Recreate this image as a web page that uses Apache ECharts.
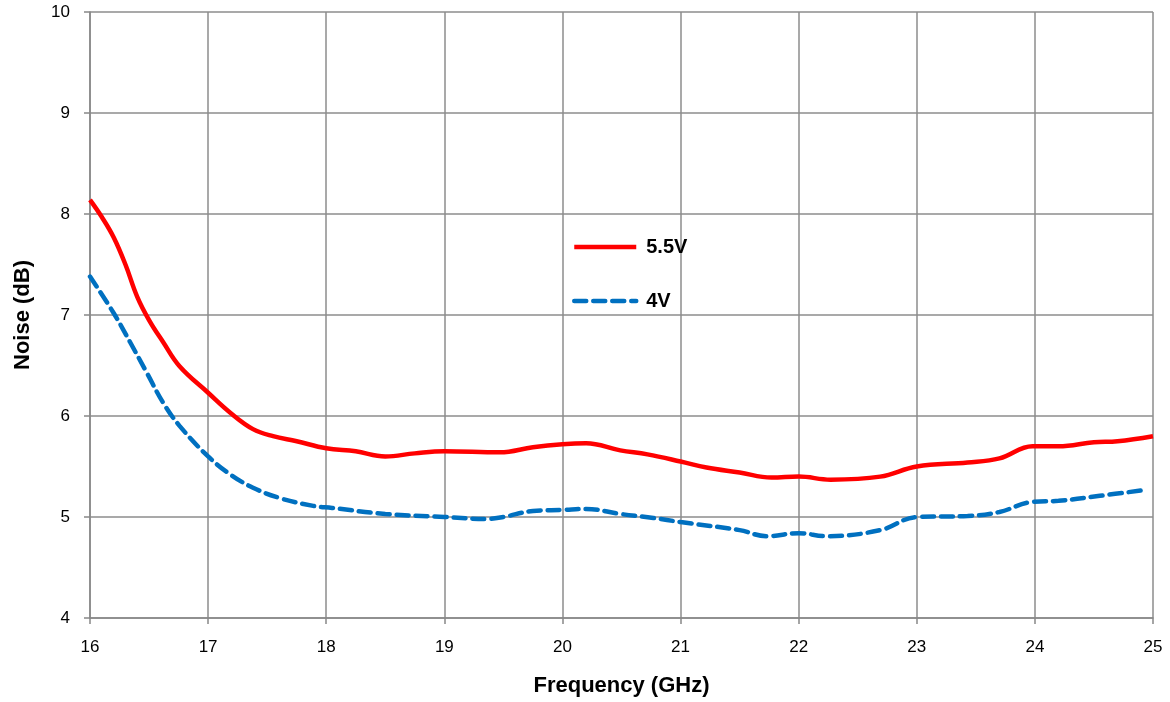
<!DOCTYPE html>
<html><head><meta charset="utf-8">
<script src="https://cdn.jsdelivr.net/npm/echarts@6/dist/echarts.min.js"></script>
<style>html,body{margin:0;padding:0;background:#fff}#c{width:1170px;height:702px}</style>
</head><body><div id="c"></div>
<script>
const freqRed = [16.0,16.1,16.2,16.3,16.4,16.5,16.62,16.76,17.0,17.19,17.38,17.55,17.75,18.0,18.25,18.5,18.75,19.0,19.47,19.75,20.0,20.2,20.49,20.72,21.0,21.22,21.5,21.77,22.0,22.27,22.69,23.0,23.43,23.7,23.98,24.2,24.5,24.7,25.0];
const red55 = [8.14,7.97,7.77,7.5,7.18,6.95,6.73,6.49,6.23,6.03,5.87,5.80,5.75,5.68,5.65,5.60,5.63,5.65,5.64,5.69,5.72,5.73,5.66,5.62,5.55,5.49,5.44,5.39,5.40,5.37,5.40,5.50,5.54,5.58,5.70,5.70,5.74,5.75,5.80];
const freqBlue = [16.0,16.2,16.34,16.48,16.62,16.76,17.0,17.19,17.38,17.6,17.89,18.05,18.5,19.0,19.36,19.5,19.75,20.0,20.2,20.49,20.77,21.0,21.5,21.73,22.0,22.24,22.69,23.0,23.43,23.7,23.98,24.2,24.55,24.95];
const blue4 = [7.38,7.02,6.73,6.43,6.13,5.90,5.60,5.42,5.29,5.19,5.11,5.09,5.03,5.00,4.98,5.00,5.06,5.07,5.08,5.03,4.99,4.95,4.87,4.81,4.84,4.81,4.87,5.00,5.01,5.05,5.15,5.16,5.21,5.27];
const seriesNames = ['5.5V','4V'];
const xTicks = [16,25,1];
const yTicks = [4,10,1];

const font = 'Liberation Sans, Arial, sans-serif';
const chart = echarts.init(document.getElementById('c'));
chart.setOption({
  animation:false,
  backgroundColor:'#fff',
  grid:{left:90,right:17,top:12,bottom:83,containLabel:false},
  legend:{
    orient:'vertical', left:567, top:232, itemWidth:62, itemHeight:12, itemGap:34,
    itemStyle:{opacity:0},
    lineStyle:{width:4.5},
    textStyle:{fontFamily:font,fontSize:20,fontWeight:'bold',color:'#000',padding:[0,0,0,5]},
    data:seriesNames
  },
  xAxis:{
    type:'value', min:xTicks[0], max:xTicks[1], interval:xTicks[2],
    name:'Frequency (GHz)', nameLocation:'middle', nameGap:57,
    nameTextStyle:{fontFamily:font,fontSize:22,fontWeight:'bold',color:'#000'},
    axisLine:{lineStyle:{color:'#888',width:1.5}},
    axisTick:{show:true,length:6,lineStyle:{color:'#888',width:1.5}},
    axisLabel:{fontFamily:font,fontSize:17,color:'#000',margin:21},
    splitLine:{show:true,lineStyle:{color:'#8c8c8c',width:1.5}}
  },
  yAxis:{
    type:'value', min:yTicks[0], max:yTicks[1], interval:yTicks[2],
    name:'Noise (dB)', nameLocation:'middle', nameGap:56, nameRotate:90,
    nameTextStyle:{fontFamily:font,fontSize:22,fontWeight:'bold',color:'#000'},
    axisLine:{show:true,lineStyle:{color:'#888',width:1.5}},
    axisTick:{show:true,length:6,lineStyle:{color:'#888',width:1.5}},
    axisLabel:{fontFamily:font,fontSize:17,color:'#000',margin:20},
    splitLine:{show:true,lineStyle:{color:'#8c8c8c',width:1.5}}
  },
  series:[
    {name:seriesNames[0],type:'line',smooth:0.4,showSymbol:false,symbol:'none',
     data:freqRed.map((x,i)=>[x,red55[i]]),
     lineStyle:{color:'#ff0000',width:4.5},itemStyle:{color:'#ff0000'}},
    {name:seriesNames[1],type:'line',smooth:0.4,showSymbol:false,symbol:'none',
     data:freqBlue.map((x,i)=>[x,blue4[i]]),
     lineStyle:{color:'#0070c0',width:4.5,type:[12,7],cap:'round'},itemStyle:{color:'#0070c0'}}
  ]
});
</script></body></html>
